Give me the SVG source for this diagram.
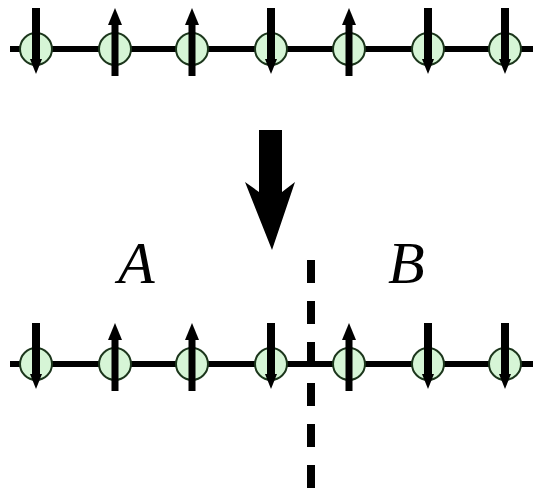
<svg xmlns="http://www.w3.org/2000/svg" xmlns:xlink="http://www.w3.org/1999/xlink" width="533" height="492" viewBox="0 0 533 492">
<style>
.chain{stroke:#000;stroke-width:6;fill:none}
.site{fill:#d6f5d6;stroke:#1c361c;stroke-width:2}
.lbl{font-family:"Liberation Serif","DejaVu Serif",serif;font-style:italic;font-size:60px;fill:#000}
.cut{stroke:#000;stroke-width:8;stroke-dasharray:23 18;fill:none}
</style>
<defs>
<g id="up">
<circle class="site" cx="0" cy="0" r="16"/>
<rect x="-3.5" y="-28" width="7" height="55" fill="#000"/>
<polygon points="0,-41 7,-24 -7,-24" fill="#000"/>
</g>
<g id="down">
<circle class="site" cx="0" cy="0" r="16"/>
<rect x="-4" y="-41" width="8" height="54" fill="#000"/>
<polygon points="0,25 6,10 -6,10" fill="#000"/>
</g>
</defs>
<g id="connectors">
<line class="chain" x1="10" y1="49" x2="533" y2="49"/>
<line class="chain" x1="10" y1="364" x2="533" y2="364"/>
<line class="cut" x1="311" y1="260" x2="311" y2="492"/>
<polygon id="bigarrow" points="259,130 282,130 282,192 295,182 272,250 245,182 259,192" fill="#000"/>
</g>
<g id="top-row">
<g id="t1"><use xlink:href="#down" transform="translate(36,49)"/></g>
<g id="t2"><use xlink:href="#up" transform="translate(115,49)"/></g>
<g id="t3"><use xlink:href="#up" transform="translate(192,49)"/></g>
<g id="t4"><use xlink:href="#down" transform="translate(271,49)"/></g>
<g id="t5"><use xlink:href="#up" transform="translate(349,49)"/></g>
<g id="t6"><use xlink:href="#down" transform="translate(428,49)"/></g>
<g id="t7"><use xlink:href="#down" transform="translate(505,49)"/></g>
</g>
<g id="bottom-row">
<g id="b1"><use xlink:href="#down" transform="translate(36,364)"/></g>
<g id="b2"><use xlink:href="#up" transform="translate(115,364)"/></g>
<g id="b3"><use xlink:href="#up" transform="translate(192,364)"/></g>
<g id="b4"><use xlink:href="#down" transform="translate(271,364)"/></g>
<g id="b5"><use xlink:href="#up" transform="translate(349,364)"/></g>
<g id="b6"><use xlink:href="#down" transform="translate(428,364)"/></g>
<g id="b7"><use xlink:href="#down" transform="translate(505,364)"/></g>
</g>
<g id="labelA"><text class="lbl" x="118" y="283">A</text></g>
<g id="labelB"><text class="lbl" x="388" y="283">B</text></g>
</svg>
